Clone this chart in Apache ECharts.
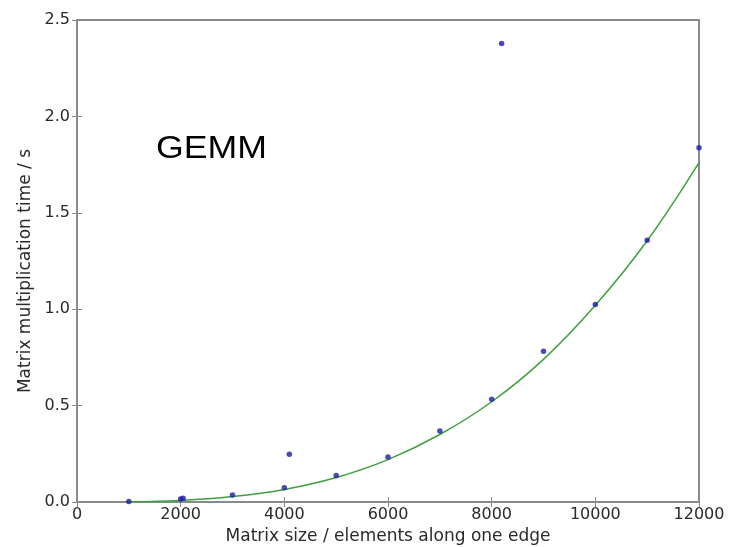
<!DOCTYPE html>
<html><head><meta charset="utf-8">
<script src="https://cdn.jsdelivr.net/npm/echarts@6/dist/echarts.min.js"></script>
<style>html,body{margin:0;padding:0;background:#fff}#c{width:742px;height:547px}</style>
</head><body><div id="c"></div>
<script>
// measured points (matrix size, time in s)
const sizes = [1000, 2000, 2048, 3000, 4000, 4096, 5000, 6000, 7000, 8000, 8192, 9000, 10000, 11000, 12000];
const times = [0.002, 0.015, 0.02, 0.036, 0.074, 0.248, 0.137, 0.234, 0.368, 0.533, 2.378, 0.782, 1.025, 1.358, 1.838];
// fitted curve
const fitSizes = [1000, 2000, 3000, 4000, 5000, 6000, 7000, 8000, 9000, 10000, 11000, 12000];
const fitTimes = [0.001, 0.008, 0.028, 0.065, 0.127, 0.22, 0.35, 0.52, 0.74, 1.02, 1.355, 1.76];
const xTicks = [0, 2000, 4000, 6000, 8000, 10000, 12000];
const yTicks = [0.0, 0.5, 1.0, 1.5, 2.0, 2.5];

const chart = echarts.init(document.getElementById('c'));
const frame = '#8a8a8a';
const labelFont = {fontFamily: 'DejaVu Sans', fontSize: 16, color: '#2a2a2a'};
chart.setOption({
  animation: false,
  grid: {left: 77, top: 20, right: 43, bottom: 45, outerBoundsMode: 'none', containLabel: false,
         show: true, borderColor: frame, borderWidth: 2, backgroundColor: '#fff'},
  graphic: [{
    type: 'text', left: 156, top: 134, scaleX: 1.15, z: 10,
    style: {text: 'GEMM', font: '31px "Liberation Sans"', fill: '#000'}
  }],
  xAxis: [{
    type: 'value', min: 0, max: 12000, interval: 2000,
    name: 'Matrix size / elements along one edge', nameLocation: 'middle', nameGap: 26,
    nameTextStyle: {fontFamily: 'DejaVu Sans', fontSize: 17, color: '#2a2a2a'},
    axisLine: {show: false}, splitLine: {show: false},
    axisTick: {show: true, inside: true, length: 5, lineStyle: {color: frame}},
    axisLabel: Object.assign({margin: 5, formatter: v => String(v)}, labelFont)
  }, {
    type: 'value', min: 0, max: 12000, interval: 2000, position: 'top',
    axisLine: {show: false}, splitLine: {show: false}, axisLabel: {show: false},
    axisTick: {show: true, inside: true, length: 5, lineStyle: {color: frame}}
  }],
  yAxis: [{
    type: 'value', min: 0, max: 2.5, interval: 0.5,
    name: 'Matrix multiplication time / s', nameLocation: 'middle', nameGap: 41,
    nameTextStyle: {fontFamily: 'DejaVu Sans', fontSize: 17, color: '#2a2a2a', padding: [0, 20, 0, 0]},
    axisLine: {show: false}, splitLine: {show: false},
    axisTick: {show: true, inside: true, length: 5, lineStyle: {color: frame}},
    axisLabel: Object.assign({margin: 7, formatter: v => v.toFixed(1)}, labelFont)
  }, {
    type: 'value', min: 0, max: 2.5, interval: 0.5, position: 'right',
    axisLine: {show: false}, splitLine: {show: false}, axisLabel: {show: false},
    axisTick: {show: true, inside: true, length: 5, lineStyle: {color: frame}}
  }],
  series: [{
    type: 'line', data: fitSizes.map((s, i) => [s, fitTimes[i]]),
    smooth: 0.4, showSymbol: false, lineStyle: {color: '#3f9f3f', width: 1.5}, z: 2
  }, {
    type: 'scatter', data: sizes.map((s, i) => [s, times[i]]),
    symbolSize: 5.5, itemStyle: {color: '#1c1ca8'}, z: 3
  }]
});
</script></body></html>
